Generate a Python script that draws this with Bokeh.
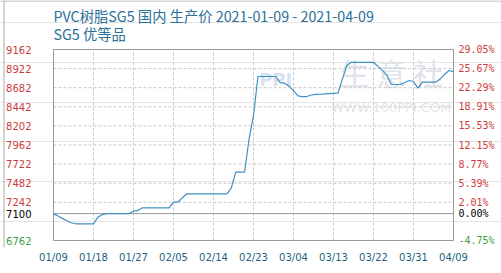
import pandas as pd
from bokeh.plotting import figure
from bokeh.models import Range1d, FixedTicker, Span, Label, ColumnDataSource
from bokeh.core.properties import value
from bokeh.embed import file_html
from bokeh.resources import INLINE

# ---------------- data ----------------
start_date = "2021-01-09"
prices = [
    7100, 7070, 7040, 7010, 6985, 6972, 6972, 6972, 6972, 6972,
    7055, 7088, 7100, 7100, 7100, 7100, 7100, 7100, 7130, 7140,
    7173, 7173, 7173, 7173, 7173, 7173, 7173, 7243, 7243, 7300,
    7349, 7349, 7349, 7349, 7349, 7349, 7349, 7349, 7349, 7349,
    7420, 7620, 7620, 7620, 8040, 8330, 8823, 8823, 8823, 8823,
    8823, 8745, 8739, 8700, 8645, 8580, 8571, 8571, 8590, 8598,
    8600, 8604, 8608, 8610, 8612, 8790, 8960, 9001, 9001, 9001,
    9001, 9001, 9001, 8950, 8900, 8840, 8722, 8722, 8722, 8745,
    8772, 8760, 8676, 8751, 8751, 8751, 8751, 8790, 8850, 8898,
    8880,
]
dates = pd.date_range(start_date, periods=len(prices), freq="D")

base_value = 7100
y_min, y_max = 6762, 9162
y_ticks = [6762, 7100, 7242, 7482, 7722, 7962, 8202, 8442, 8682, 8922, 9162]
y_tick_labels = [str(v) for v in y_ticks]
pct_labels = ["-4.75%", "0.00%", "2.01%", "5.39%", "8.77%", "12.15%", "15.53%",
              "18.91%", "22.29%", "25.67%", "29.05%"]
grid_ticks = [7242, 7482, 7722, 7962, 8202, 8442, 8682, 8922]
x_tick_labels = ["01/09", "01/18", "01/27", "02/05", "02/14", "02/23",
                 "03/04", "03/13", "03/22", "03/31", "04/09"]
x_tick_dates = pd.date_range(start_date, periods=len(x_tick_labels), freq="9D")

title_line1 = "PVC树脂SG5 国内 生产价 2021-01-09 - 2021-04-09"
title_line2 = "SG5 优等品"
watermark_cn = "生 意 社"
watermark_url = "WWW.100PPI.COM"

# ---------------- styles ----------------
RED = "#cc3b3b"
GREEN = "#3f9f3f"
TEAL = "#1d5f80"
TITLE_C = "#2b6f99"
GRID_C = "#c8c8c8"
FRAME_C = "#999999"
FONT = "DejaVu Sans"
MONO = "DejaVu Sans Mono"

def label_color(v):
    if v == base_value:
        return "black"
    if v == y_min:
        return GREEN
    return RED

def ms(ts):
    return ts.value / 1e6

x_start, x_end = ms(dates[0]), ms(dates[-1])
x_ticks_ms = [ms(d) for d in x_tick_dates]

# plot area inside the canvas: x 53..453 px, y 49..240 px; frame runs to 247 px
k = (x_end - x_start) / 400.0          # ms per pixel
ppv = (y_max - y_min) / 191.0          # value per pixel

p = figure(width=501, height=273, x_axis_type="datetime", y_axis_location=None,
           x_range=Range1d(x_start - 53 * k, x_end + 48 * k),
           y_range=Range1d(y_min - 7 * ppv, y_max + 49 * ppv),
           output_backend="svg", toolbar_location=None, title=None,
           min_border_left=0, min_border_right=0,
           min_border_top=0, min_border_bottom=26)
p.background_fill_color = "white"
p.border_fill_color = "white"
p.outline_line_color = None
p.xgrid.visible = False

# x axis
xax = p.xaxis[0]
xax.ticker = FixedTicker(ticks=x_ticks_ms)
xax.major_label_overrides = {t: lab for t, lab in zip(x_ticks_ms, x_tick_labels)}
xax.major_label_text_color = TEAL
xax.major_label_text_font = FONT
xax.major_label_text_font_size = "10px"
xax.major_label_standoff = 4
xax.major_tick_out = 0
xax.major_tick_in = 0
xax.minor_tick_out = 0
xax.minor_tick_in = 0
xax.axis_line_color = None

# outer border of the picture
p.add_layout(Span(location=y_max + 48.5 * ppv, dimension="width",
                  line_color="#aaaaaa", line_width=1))
p.add_layout(Span(location=x_start - 49.5 * k, dimension="height",
                  line_color="#aaaaaa", line_width=1))

# watermark
p.add_layout(Label(x=ms(dates[76]), y=8873, text=watermark_cn, text_align="center",
                   text_baseline="middle", text_font="Noto Sans CJK SC",
                   text_font_size="30px", text_color="#dfe3ea", level="underlay"))
p.add_layout(Label(x=ms(dates[76]), y=8433, text=watermark_url, text_align="center",
                   text_baseline="middle", text_font=FONT,
                   text_font_size="13px", text_color="#e6e6e6", level="underlay"))
p.add_layout(Label(x=ms(dates[50]), y=8780, text="PPI", text_align="center",
                   text_baseline="middle", text_font=FONT, text_font_style="bold",
                   text_font_size="18px", text_color="#d6e2f0", level="underlay"))

# dashed grid
p.segment(x0=x_ticks_ms, y0=[y_min] * len(x_ticks_ms), x1=x_ticks_ms,
          y1=[y_max] * len(x_ticks_ms), line_color=GRID_C, line_dash="3 2", line_width=1)
p.segment(x0=[x_start] * len(grid_ticks), y0=grid_ticks, x1=[x_end] * len(grid_ticks),
          y1=grid_ticks, line_color=GRID_C, line_dash="3 2", line_width=1)

# baseline and plot frame
p.segment(x0=[x_start], y0=[base_value], x1=[x_end], y1=[base_value],
          line_color=FRAME_C, line_width=1)
p.quad(left=[x_start], right=[x_end], bottom=[y_min], top=[y_max],
       fill_color=None, line_color=FRAME_C, line_width=1)

# price line
p.line(dates, prices, line_color="#3f90c2", line_width=1.2)

# y tick labels (left: price, right: change vs base)
src = ColumnDataSource(dict(
    xl=[x_start] * len(y_ticks), xr=[x_end] * len(y_ticks), y=y_ticks,
    lab=y_tick_labels, pct=pct_labels, col=[label_color(v) for v in y_ticks]))
p.text(x="xl", y="y", text="lab", text_color="col", source=src, x_offset=-22,
       text_align="right", text_baseline="middle", text_font=value(FONT),
       text_font_size="10px")
p.text(x="xr", y="y", text="pct", text_color="col", source=src, x_offset=5,
       text_align="left", text_baseline="middle", text_font=value(MONO),
       text_font_size="10px")

# titles
p.add_layout(Label(x=x_start, y=y_max, y_offset=34, text=title_line1,
                   text_align="left", text_baseline="middle", text_font="Noto Sans CJK SC",
                   text_font_size="14.3px", text_color=TITLE_C))
p.add_layout(Label(x=x_start, y=y_max, y_offset=16, text=title_line2,
                   text_align="left", text_baseline="middle", text_font="Noto Sans CJK SC",
                   text_font_size="14.3px", text_color=TITLE_C))

open("out.html", "w").write(file_html(p, INLINE))
